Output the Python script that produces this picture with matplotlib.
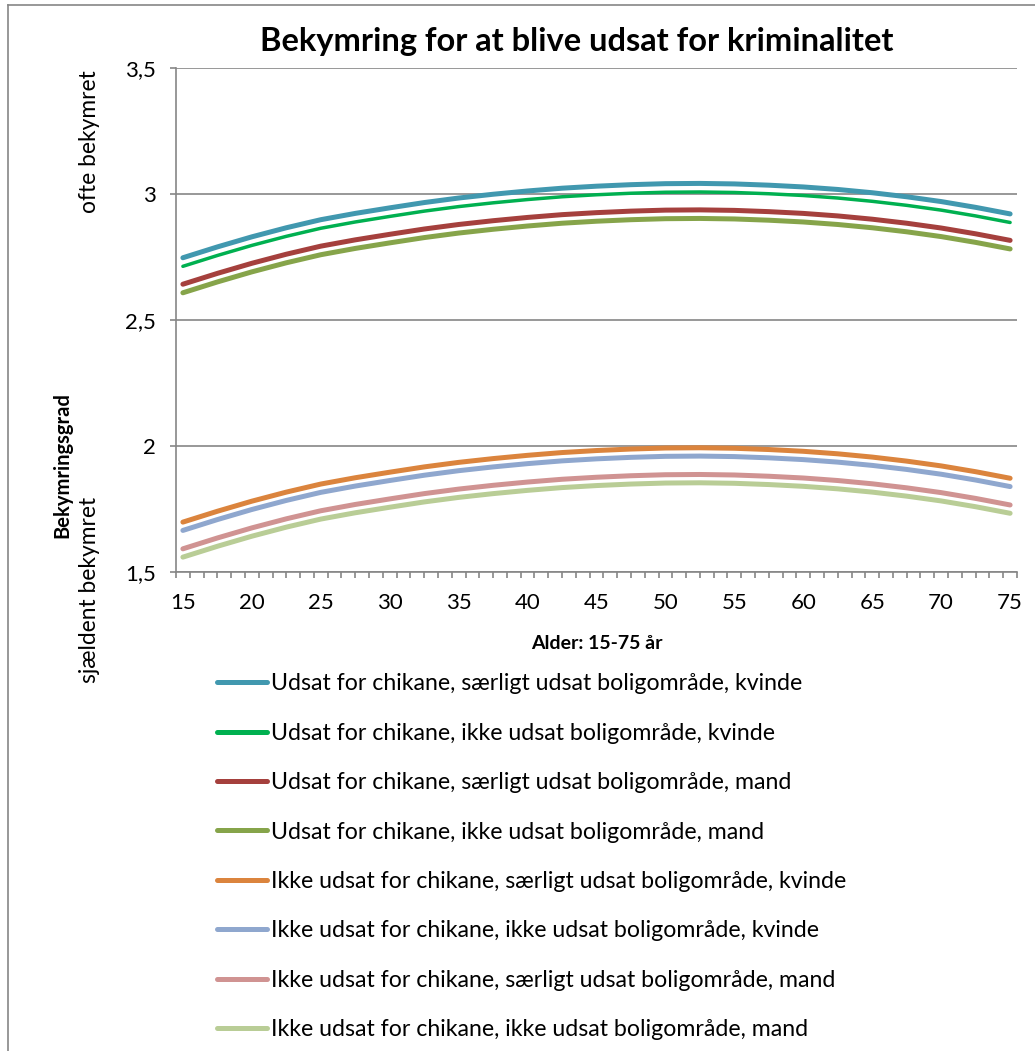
import numpy as np
import matplotlib
matplotlib.use("Agg")
import matplotlib.pyplot as plt
from matplotlib.lines import Line2D

plt.rcParams['font.family'] = ['Lato', 'DejaVu Sans']

ages = [15, 17.5, 20, 22.5, 25, 27.5, 30, 32.5, 35, 37.5, 40, 42.5, 45,
        47.5, 50, 52.5, 55, 57.5, 60, 62.5, 65, 67.5, 70, 72.5, 75]

chik_saerligt_kvinde = [2.747, 2.790, 2.830, 2.866, 2.898, 2.923, 2.945, 2.966, 2.984, 2.999, 3.012, 3.023, 3.031,
                        3.037, 3.041, 3.042, 3.040, 3.035, 3.028, 3.018, 3.005, 2.989, 2.970, 2.947, 2.921]
chik_ikke_kvinde = [2.713, 2.756, 2.796, 2.832, 2.864, 2.889, 2.911, 2.932, 2.950, 2.965, 2.978, 2.989, 2.997,
                    3.003, 3.007, 3.008, 3.006, 3.001, 2.994, 2.984, 2.971, 2.955, 2.936, 2.913, 2.887]
chik_saerligt_mand = [2.642, 2.685, 2.725, 2.761, 2.793, 2.818, 2.840, 2.861, 2.879, 2.894, 2.907, 2.918, 2.926,
                      2.932, 2.936, 2.937, 2.935, 2.930, 2.923, 2.913, 2.900, 2.884, 2.865, 2.842, 2.816]
chik_ikke_mand = [2.608, 2.651, 2.691, 2.727, 2.759, 2.784, 2.806, 2.827, 2.845, 2.860, 2.873, 2.884, 2.892,
                  2.898, 2.902, 2.903, 2.901, 2.896, 2.889, 2.879, 2.866, 2.850, 2.831, 2.808, 2.782]
ikke_saerligt_kvinde = [1.698, 1.741, 1.781, 1.817, 1.849, 1.874, 1.896, 1.917, 1.935, 1.950, 1.963, 1.974, 1.982,
                        1.988, 1.992, 1.993, 1.991, 1.986, 1.979, 1.969, 1.956, 1.940, 1.921, 1.898, 1.872]
ikke_ikke_kvinde = [1.665, 1.708, 1.748, 1.784, 1.816, 1.841, 1.863, 1.884, 1.902, 1.917, 1.930, 1.941, 1.949,
                    1.955, 1.959, 1.960, 1.958, 1.953, 1.946, 1.936, 1.923, 1.907, 1.888, 1.865, 1.839]
ikke_saerligt_mand = [1.592, 1.635, 1.675, 1.711, 1.743, 1.768, 1.790, 1.811, 1.829, 1.844, 1.857, 1.868, 1.876,
                      1.882, 1.886, 1.887, 1.885, 1.880, 1.873, 1.863, 1.850, 1.834, 1.815, 1.792, 1.766]
ikke_ikke_mand = [1.559, 1.602, 1.642, 1.678, 1.710, 1.735, 1.757, 1.778, 1.796, 1.811, 1.824, 1.835, 1.843,
                  1.849, 1.853, 1.854, 1.852, 1.847, 1.840, 1.830, 1.817, 1.801, 1.782, 1.759, 1.733]

labels = [
    "Udsat for chikane, særligt udsat boligområde, kvinde",
    "Udsat for chikane, ikke udsat boligområde, kvinde",
    "Udsat for chikane, særligt udsat boligområde, mand",
    "Udsat for chikane, ikke udsat boligområde, mand",
    "Ikke udsat for chikane, særligt udsat boligområde, kvinde",
    "Ikke udsat for chikane, ikke udsat boligområde, kvinde",
    "Ikke udsat for chikane, særligt udsat boligområde, mand",
    "Ikke udsat for chikane, ikke udsat boligområde, mand",
]
series = [chik_saerligt_kvinde, chik_ikke_kvinde, chik_saerligt_mand, chik_ikke_mand,
          ikke_saerligt_kvinde, ikke_ikke_kvinde, ikke_saerligt_mand, ikke_ikke_mand]
colors = ['#4198AF', '#00B050', '#A5403D', '#86A44A', '#DB843D', '#8FA7CE', '#D09392', '#B9CD96']
widths = [3.6, 2.5, 3.6, 3.6, 3.6, 3.6, 3.6, 3.6]

yticks = [1.5, 2, 2.5, 3, 3.5]
yticklabels = ["1,5", "2", "2,5", "3", "3,5"]
xticks = [15, 20, 25, 30, 35, 40, 45, 50, 55, 60, 65, 70, 75]

W, H = 1035, 1051
fig = plt.figure(figsize=(W / 100, H / 100), dpi=100)
ax = fig.add_axes([176 / W, 1 - 572 / H, (1017 - 176) / W, (572 - 68) / H])

for s, c, lw, lab in zip(series, colors, widths, labels):
    ax.plot(ages, s, color=c, lw=lw, label=lab, solid_capstyle='round', solid_joinstyle='round')

grid_c = '#868686'
ax.set_xlim(14.5, 75.5)
ax.set_ylim(1.5, 3.5)
ax.set_yticks(yticks)
ax.set_yticklabels(yticklabels)
ax.set_xticks(xticks)
ax.set_xticks(np.arange(14.5, 75.6, 1), minor=True)
ax.yaxis.grid(True, color=grid_c, lw=1.2)
ax.set_axisbelow(True)
for sp in ['top', 'right']:
    ax.spines[sp].set_visible(False)
for sp in ['left', 'bottom']:
    ax.spines[sp].set_color(grid_c)
    ax.spines[sp].set_linewidth(1.2)
ax.tick_params(axis='y', length=4.5, width=1.2, color=grid_c, pad=10, labelsize=16)
ax.tick_params(axis='x', which='major', length=0, pad=15, labelsize=16)
ax.tick_params(axis='x', which='minor', length=4.5, width=1.2, color=grid_c)

ax.set_xlabel("Alder: 15-75 år", fontsize=14, fontweight='bold', labelpad=16)

fig.text(577 / W, 1 - 42 / H, "Bekymring for at blive udsat for kriminalitet",
         ha='center', va='center', fontsize=23.5, fontweight='bold')
fig.text(62 / W, 1 - 465 / H, "Bekymringsgrad", rotation=90, ha='center', va='center',
         fontsize=14.5, fontweight='bold')
fig.text(89 / W, 1 - 142 / H, "ofte bekymret", rotation=90, ha='center', va='center', fontsize=16.4)
fig.text(89 / W, 1 - 590 / H, "sjældent bekymret", rotation=90, ha='center', va='center', fontsize=16.4)

leg = ax.legend(loc='upper left', bbox_to_anchor=(208 / W, 1 - 664 / H), bbox_transform=fig.transFigure,
                frameon=False, fontsize=16.7, handlelength=2.15, handletextpad=0.17,
                labelspacing=1.225, borderaxespad=0)
for h in leg.get_lines():
    h.set_linewidth(3.6)

# outer frame of the chart area
fig.add_artist(Line2D([8 / W, 1], [1 - 5 / H, 1 - 5 / H], transform=fig.transFigure, color=grid_c, lw=1.2))
fig.add_artist(Line2D([8 / W, 8 / W], [0, 1 - 5 / H], transform=fig.transFigure, color=grid_c, lw=1.2))

fig.savefig("out.png", dpi=100)
